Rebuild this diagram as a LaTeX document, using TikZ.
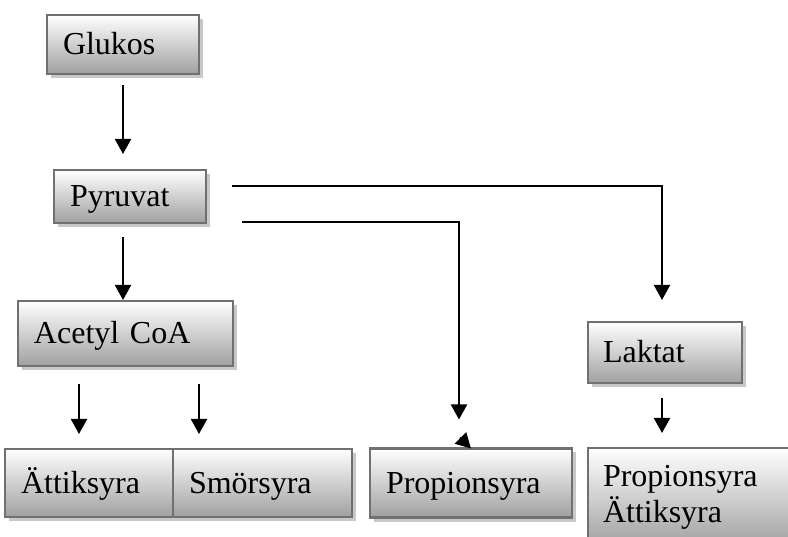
\documentclass[tikz,border=0pt]{standalone}
\usepackage{fontspec}
\setmainfont{Liberation Serif}
\usepackage{tikz}
\usetikzlibrary{arrows.meta, positioning, shadows}
\definecolor{boxedge}{RGB}{112,112,112}
\definecolor{boxshade}{RGB}{160,160,160}
\definecolor{boxshadow}{RGB}{200,200,200}
\tikzset{
  basebox/.style={
    rectangle, draw=boxedge, line width=2.4pt, outer sep=0pt,
    top color=white, bottom color=boxshade,
    drop shadow={shadow xshift=4pt, shadow yshift=-4pt, fill=boxshadow, opacity=1},
    inner xsep=16pt, inner ysep=4pt, align=left,
    font=\fontsize{32pt}{36pt}\selectfont
  },
  stepbox/.style={basebox, text height=21pt, text depth=0pt},
  arr/.style={line width=2pt, -{Triangle[width=16pt, length=15pt]}},
}
\begin{document}
\begin{tikzpicture}[x=1pt, y=-1pt]
  \useasboundingbox (0,0) rectangle (788,537);
  \clip (0,0) rectangle (788,537);

  % --- Hauptkette: Glukos -> Pyruvat -> Acetyl CoA ---
  \node (glukos)  [stepbox, anchor=north west, text width=120pt, minimum height=59pt] at (47,15) {Glukos};
  \node (pyruvat) [stepbox, below=96pt of glukos.south west, anchor=north west, xshift=7pt,
                   text width=120pt, minimum height=53pt] {Pyruvat};
  \node (acetyl)  [stepbox, below=78pt of pyruvat.south west, anchor=north west, xshift=-36pt,
                   text width=183pt, minimum height=65pt] {Acetyl CoA};

  % --- untere Reihe ---
  \node (attik) [stepbox, below=83pt of acetyl.south west, anchor=north west, xshift=-13pt,
                 text width=136pt, minimum height=68pt] {Ättiksyra};
  \node (smor)  [stepbox, right=0pt of attik, text width=147pt, minimum height=68pt] {Smörsyra};
  \node (prop)  [stepbox, right=18pt of smor, text width=170pt, minimum height=69pt] {Propionsyra};

  % --- rechte Spalte: Laktat ---
  \node (laktat)  [stepbox, right=355pt of acetyl.north east, anchor=north west, yshift=-21pt,
                   text width=124pt, minimum height=61pt, inner xsep=15pt] {Laktat};
  \node (propatt) [basebox, below=65pt of laktat.south west, anchor=north west,
                   text width=195pt, inner xsep=15pt, inner ysep=17pt] {Propionsyra\\Ättiksyra};

  % --- Pfeile ---
  \draw[arr, shorten <=11pt, shorten >=16pt] (glukos.south) -- (glukos.south |- pyruvat.north);
  \draw[arr, shorten <=14pt, shorten >=1pt]  (pyruvat.south -| glukos.south) -- (acetyl.north -| glukos.south);
  \draw[arr, shorten <=18pt, shorten >=15pt] ([xshift=-10pt]attik.north |- acetyl.south) -- ([xshift=-10pt]attik.north);
  \draw[arr, shorten <=18pt, shorten >=15pt] ([xshift=26pt]smor.north west |- acetyl.south) -- ([xshift=26pt]smor.north west);
  \draw[arr, shorten >=22pt] ([xshift=26pt, yshift=10pt]pyruvat.east) -| ([xshift=-3pt]laktat.north);
  \draw[arr, shorten >=29pt] ([xshift=36pt, yshift=1pt]pyruvat.south east) -| ([xshift=-12pt]prop.north);
  \draw[arr, shorten <=15pt, shorten >=15pt] ([xshift=-3pt]laktat.south) -- ([xshift=-3pt]laktat.south |- propatt.north);

  % kleine Pfeilspitze auf Propionsyra
  \coordinate (stub) at ([xshift=101pt]prop.north west);
  \draw[arr] ([shift={(-11pt,11pt)}]stub) -- (stub);

\end{tikzpicture}
\end{document}
